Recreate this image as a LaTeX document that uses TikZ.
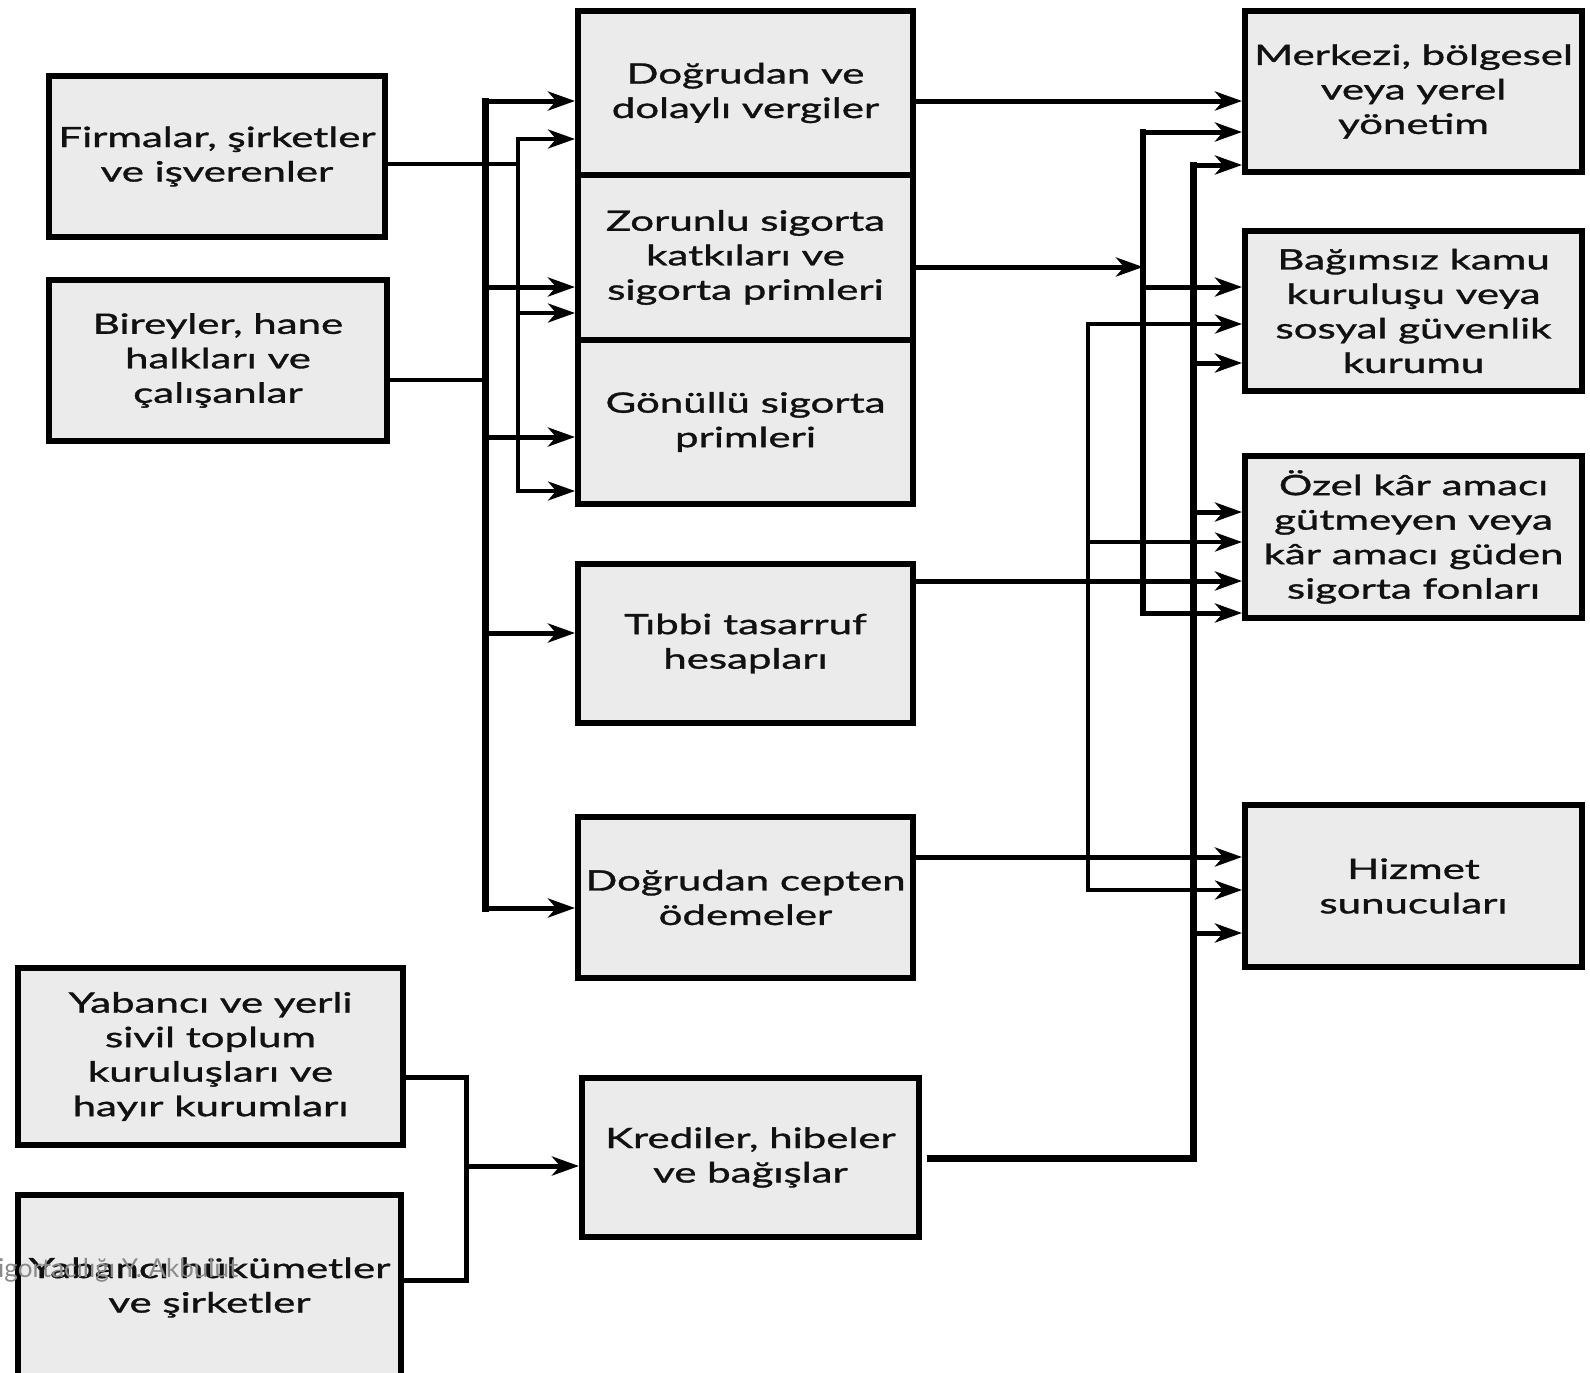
\documentclass[tikz,border=0pt]{standalone}
\usepackage{fontspec}
\setmainfont{Lato}[FakeStretch=1.5,FakeBold=1.2]
\newfontfamily\wmfont{Lato}
\usetikzlibrary{arrows.meta}
\definecolor{boxfill}{HTML}{EBEBEB}
\definecolor{wmgray}{HTML}{8A8A8A}
\definecolor{txt}{HTML}{111111}
\tikzset{
  box/.style={draw=black, fill=boxfill, line width=6pt, align=center, inner sep=0pt,
    font=\fontsize{28}{34.5}\selectfont, text=txt},
  arr/.style={-{Stealth[length=27pt,width=19pt,inset=8pt]}},
  w4/.style={line width=4pt},
  w5/.style={line width=5pt},
  w6/.style={line width=6pt, line cap=rect},
  w7/.style={line width=7pt, line cap=rect},
}
\begin{document}
\begin{tikzpicture}[x=1pt,y=-1pt]
\useasboundingbox (0,0) rectangle (1590,1373);
\clip (0,0) rectangle (1590,1373);
\fill[white] (0,0) rectangle (1590,1373);

% bus coordinates
\coordinate (LT) at (485,0);
\coordinate (LN) at (518,0);
\coordinate (BL) at (466,0);
\coordinate (RA) at (1143,0);
\coordinate (RB) at (1193,0);
\coordinate (RC) at (1088,0);

% sources
\node[box, minimum width=336pt, minimum height=161pt] (firm) at (217,156.5) {Firmalar, şirketler\\ve işverenler};
\node[box, minimum width=338pt, minimum height=161pt] (birey) at (218,360.5) {Bireyler, hane\\halkları ve\\çalışanlar};
\node[box, minimum width=385pt, minimum height=177pt] (yyerli) at (210.5,1056.5) {Yabancı ve yerli\\sivil toplum\\kuruluşları ve\\hayır kurumları};
\node[box, minimum width=383pt, minimum height=185pt] (yhuk) at (209.5,1287.5) {Yabancı hükümetler\\ve şirketler};

% middle (stacked boxes share their dividing borders)
\node[box, minimum width=335pt, minimum height=164pt] (vergi) at (745.5,93) {Doğrudan ve\\dolaylı vergiler};
\node[box, minimum width=335pt, minimum height=165pt] (zorunlu) at (745.5,257.5) {Zorunlu sigorta\\katkıları ve\\sigorta primleri};
\node[box, minimum width=335pt, minimum height=164pt] (gonullu) at (745.5,422) {Gönüllü sigorta\\primleri};
\node[box, minimum width=335pt, minimum height=159pt] (tibbi) at (745.5,643.5) {Tıbbi tasarruf\\hesapları};
\node[box, minimum width=335pt, minimum height=161pt] (cepten) at (745.5,897.5) {Doğrudan cepten\\ödemeler};
\node[box, minimum width=337pt, minimum height=159pt] (kredi) at (750.5,1157.5) {Krediler, hibeler\\ve bağışlar};

% right
\node[box, minimum width=337pt, minimum height=161pt] (merkezi) at (1413.5,91.5) {Merkezi, bölgesel\\veya yerel\\yönetim};
\node[box, minimum width=337pt, minimum height=160pt] (bagimsiz) at (1413.5,311) {Bağımsız kamu\\kuruluşu veya\\sosyal güvenlik\\kurumu};
\node[box, minimum width=337pt, minimum height=162pt] (ozel) at (1413.5,537) {Özel kâr amacı\\gütmeyen veya\\kâr amacı güden\\sigorta fonları};
\node[box, minimum width=337pt, minimum height=162pt] (hizmet) at (1413.5,886) {Hizmet\\sunucuları};

% ---- left buses
\draw[w4] (firm.east |- 0,164) -- (LN |- 0,164);
\draw[w4, line cap=rect] (LN |- 0,139) -- (LN |- 0,491);
\foreach \y/\n in {139/vergi,313/zorunlu,491/gonullu}
  \draw[w4,arr] (LN |- 0,\y) -- (\n.west |- 0,\y);

\draw[w4] (birey.east |- 0,380) -- (LT |- 0,380);
\draw[w7] (LT |- 0,101) -- (LT |- 0,908);
\foreach \y/\n in {101/vergi,287/zorunlu,437/gonullu,633/tibbi,908/cepten}
  \draw[w5,arr] (LT |- 0,\y) -- (\n.west |- 0,\y);

% ---- bottom left
\draw[w5, line join=miter] (yyerli.east |- 0,1077) -- (BL |- 0,1077) -- (BL |- 0,1280) -- (yhuk.east |- 0,1280);
\draw[w5,arr] (BL |- 0,1166) -- (kredi.west |- 0,1166);

% ---- right side
\draw[w5,arr] (vergi.east |- 0,101) -- (merkezi.west |- 0,101);
\draw[w5,arr] (zorunlu.east |- 0,267) -- (RA |- 0,267);
\draw[w6] (RA |- 0,132) -- (RA |- 0,613);
\foreach \y/\n in {132/merkezi,287/bagimsiz,613/ozel}
  \draw[w5,arr] (RA |- 0,\y) -- (\n.west |- 0,\y);

\draw[w4, line cap=rect] (RC |- 0,324) -- (RC |- 0,890);
\foreach \y/\n in {324/bagimsiz,542/ozel,890/hizmet}
  \draw[w4,arr] (RC |- 0,\y) -- (\n.west |- 0,\y);

\draw[w5,arr] (tibbi.east |- 0,581) -- (ozel.west |- 0,581);
\draw[w5,arr] (cepten.east |- 0,857) -- (hizmet.west |- 0,857);

\draw[w7, line join=miter] ([xshift=8pt]kredi.east |- 0,1158) -- (RB |- 0,1158) -- (RB |- 0,165);
\foreach \y/\n in {165/merkezi,363/bagimsiz,512/ozel,933/hizmet}
  \draw[w5,arr] (RB |- 0,\y) -- (\n.west |- 0,\y);

% watermark
\node[anchor=west, inner sep=0pt, text=wmgray, font=\wmfont\fontsize{26}{28}\selectfont] (wm) at (-2,1270) {igortacılığı Y. Akbulut};
\end{tikzpicture}
\end{document}
